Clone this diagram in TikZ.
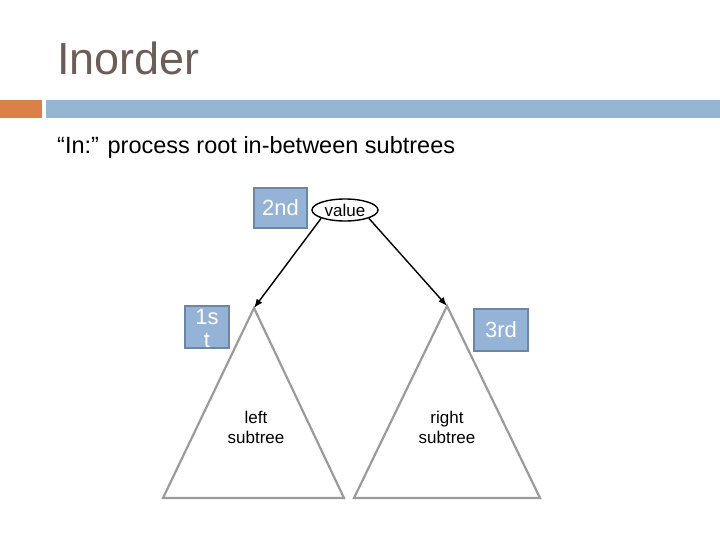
\documentclass[tikz,border=0pt]{standalone}
\usepackage{fontspec}
\setmainfont{Liberation Sans}
\usetikzlibrary{shapes, arrows.meta}
\definecolor{titlegray}{RGB}{108,94,87}
\definecolor{barorange}{RGB}{221,128,71}
\definecolor{barblue}{RGB}{148,182,210}
\definecolor{boxblue}{RGB}{149,179,215}
\definecolor{boxedge}{RGB}{108,135,166}
\definecolor{treegray}{RGB}{155,155,155}
\tikzset{
  stepbox/.style = {draw=boxedge, line width=2.5pt, fill=boxblue, text=white,
    font=\fontsize{22}{23}\selectfont, inner sep=0pt},
  subtree/.style = {draw=treegray, line width=2.2pt},
  treelabel/.style = {align=center, font=\fontsize{17}{20}\selectfont},
  visit/.style = {-{Latex[length=9pt,width=7pt]}, line width=1.4pt}
}

\begin{document}
\begin{tikzpicture}[x=1pt, y=-1pt]
  \useasboundingbox (0,0) rectangle (720,540);
  % heading
  \node[anchor=base west, inner sep=0pt, text=titlegray,
    font=\fontsize{45}{45}\selectfont] (title) at (57,75) {Inorder};
  \fill[barorange] (0,100) rectangle (42,118);
  \fill[barblue] (46,100) rectangle (720,118);
  \node[anchor=base west, inner sep=0pt, font=\fontsize{23.5}{26}\selectfont]
    (sub) at (57,154) {“In:” process root in-between subtrees};

  % root and the two subtrees
  \node[draw, ellipse, line width=1.4pt, minimum width=66pt, minimum height=22pt,
    inner sep=0pt, font=\fontsize{17}{17}\selectfont] (val) at (345,210) {value};
  \coordinate (lapex) at (254,308);
  \coordinate (rapex) at (447,306);
  \draw[subtree] (lapex) -- (163,498) -- (344,498) -- cycle;
  \draw[subtree] (rapex) -- (354,498) -- (540,498) -- cycle;
  \node[treelabel] (ltext) at (256,427) {left\\subtree};
  \node[treelabel] (rtext) at (447,427) {right\\subtree};
  \draw[visit] (val.south west) -- (lapex);
  \draw[visit] (val.south east) -- (rapex);

  % visiting order
  \node[stepbox, minimum width=53pt, minimum height=40pt] (second) at (280.5,208) {2nd};
  \node[stepbox, minimum width=44pt, minimum height=42pt] (first) at (207,327)
    {\smash{\raisebox{-10pt}{\begin{tabular}{@{}c@{}}1s\\t\end{tabular}}}};
  \node[stepbox, minimum width=54pt, minimum height=42pt] (third) at (501,330) {3rd};
\end{tikzpicture}
\end{document}
